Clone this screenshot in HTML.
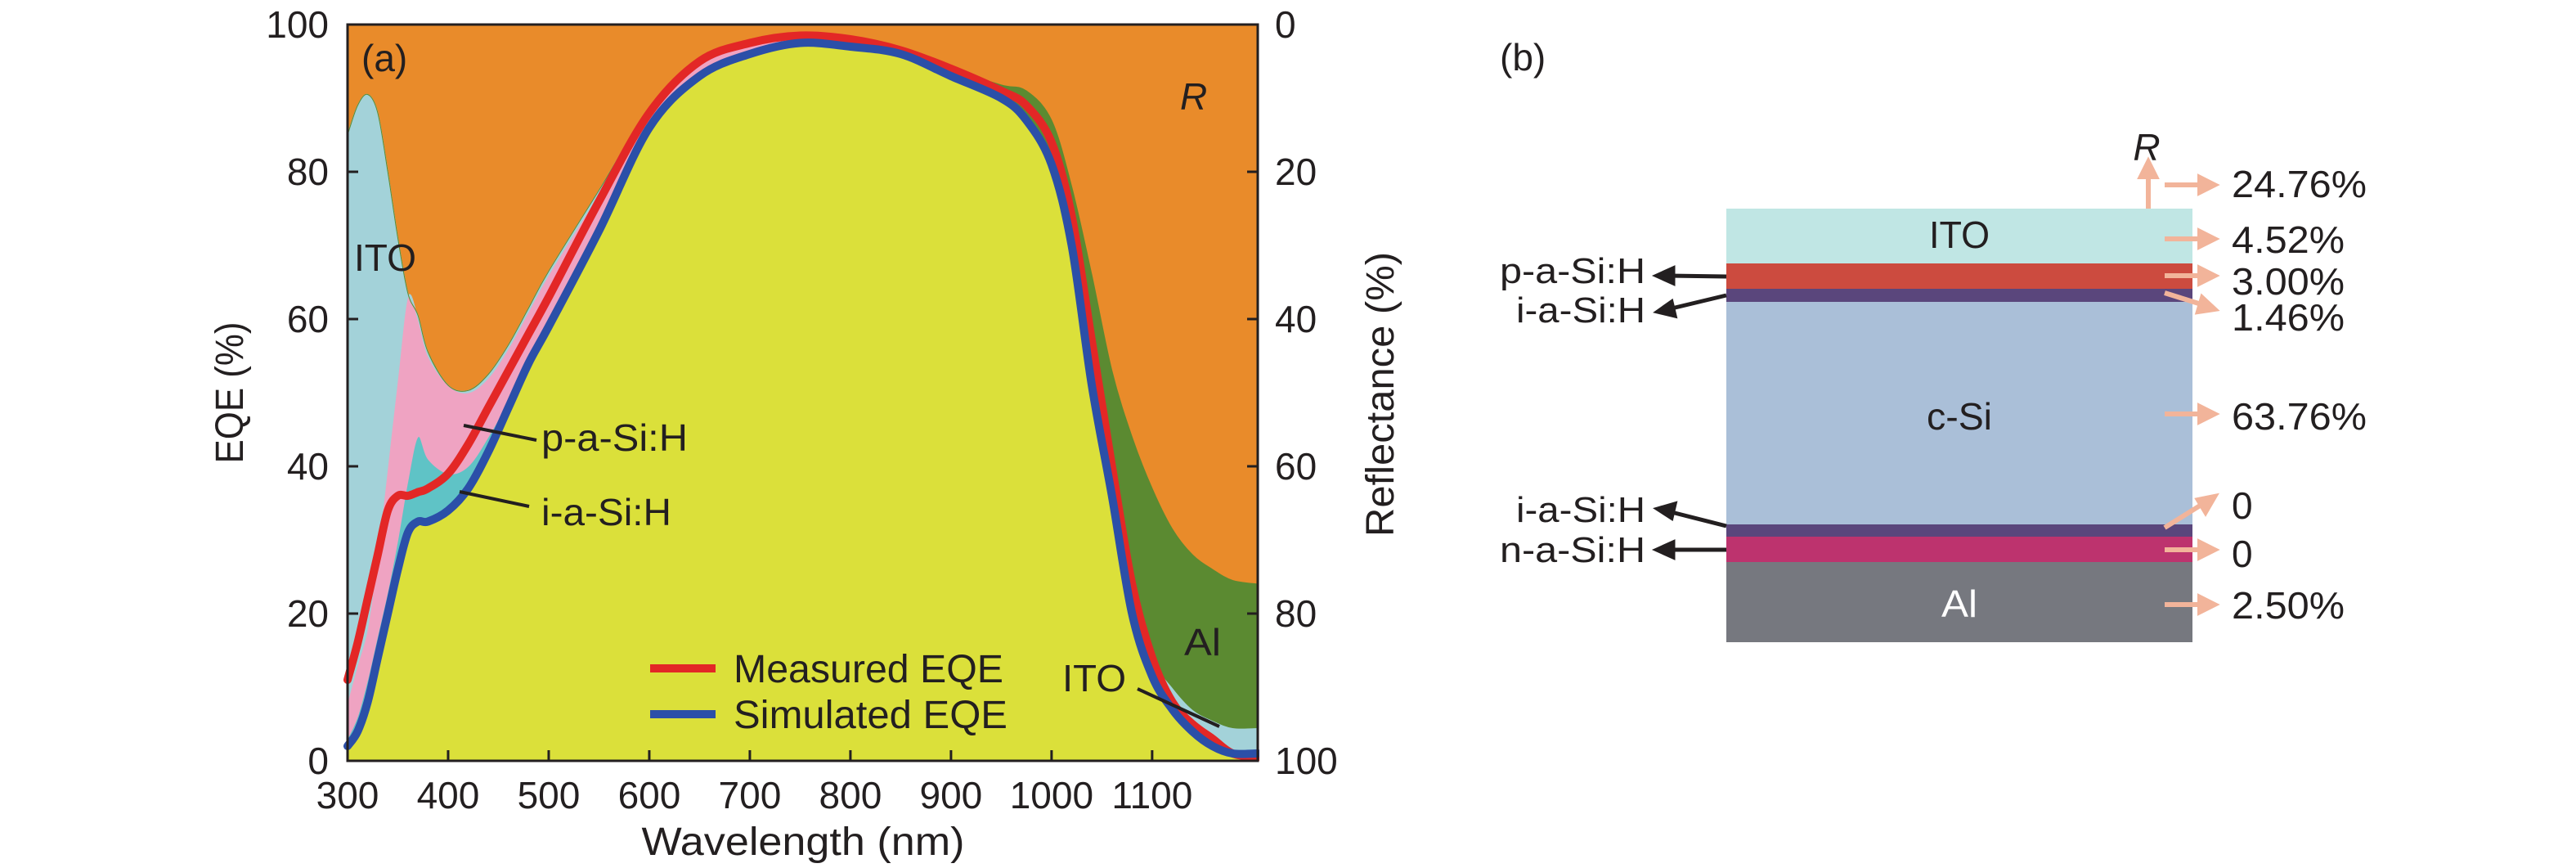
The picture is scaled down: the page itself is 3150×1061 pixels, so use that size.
<!DOCTYPE html>
<html><head><meta charset="utf-8"><style>
html,body{margin:0;padding:0;background:#fff;}
svg{display:block;}
text{font-family:"Liberation Sans",sans-serif;fill:#231f20;}
</style></head><body>
<svg id="fig" width="3150" height="1061" viewBox="0 0 3150 1061" xmlns="http://www.w3.org/2000/svg">
<g id="panelA"></g>
<g id="panelB">
  <text x="1834" y="86" font-size="46">(b)</text>
  <rect x="2111" y="255" width="570" height="67" fill="#c0e6e4"/>
  <rect x="2111" y="322" width="570" height="31" fill="#cc4b3f"/>
  <rect x="2111" y="353" width="570" height="16" fill="#5a467c"/>
  <rect x="2111" y="369" width="570" height="272" fill="#aabfd8"/>
  <rect x="2111" y="641" width="570" height="15" fill="#5a467c"/>
  <rect x="2111" y="656" width="570" height="31" fill="#bd336e"/>
  <rect x="2111" y="687" width="570" height="98" fill="#76787f"/>
  <text x="2396" y="303" font-size="46" text-anchor="middle" textLength="74" lengthAdjust="spacingAndGlyphs">ITO</text>
  <text x="2396" y="525" font-size="46" text-anchor="middle" textLength="80" lengthAdjust="spacingAndGlyphs">c-Si</text>
  <text x="2396" y="754" font-size="46" text-anchor="middle" style="fill:#fff" textLength="44" lengthAdjust="spacingAndGlyphs">Al</text>
  <g font-size="44" text-anchor="end">
    <text x="2012" y="346" textLength="178" lengthAdjust="spacingAndGlyphs">p-a-Si:H</text>
    <text x="2012" y="394" textLength="158" lengthAdjust="spacingAndGlyphs">i-a-Si:H</text>
    <text x="2012" y="638" textLength="158" lengthAdjust="spacingAndGlyphs">i-a-Si:H</text>
    <text x="2012" y="687" textLength="178" lengthAdjust="spacingAndGlyphs">n-a-Si:H</text>
  </g>
  <g stroke="#231f20" stroke-width="5" fill="#231f20">
    <line x1="2111" y1="338" x2="2040" y2="337"/><polygon points="2026,337 2046,328 2046,346"/>
    <line x1="2111" y1="361" x2="2040" y2="378"/><polygon points="2027,381 2044,369 2048,386"/>
    <line x1="2111" y1="643" x2="2040" y2="625"/><polygon points="2027,622 2048,616 2044,633"/>
    <line x1="2111" y1="672" x2="2040" y2="672"/><polygon points="2026,672 2046,663 2046,681"/>
  </g>
  <g stroke="#f2b49a" stroke-width="6" fill="#f2b49a">
    <line x1="2627" y1="255" x2="2627" y2="212"/><polygon points="2627,198 2618,216 2636,216"/>
    <line x1="2647" y1="226" x2="2694" y2="226"/><polygon points="2708,226 2690,217 2690,235"/>
    <line x1="2647" y1="292" x2="2694" y2="292"/><polygon points="2708,292 2690,283 2690,301"/>
    <line x1="2647" y1="337" x2="2694" y2="337"/><polygon points="2708,337 2690,328 2690,346"/>
    <line x1="2647" y1="358" x2="2695" y2="373"/><polygon points="2708,378 2693,364 2688,381"/>
    <line x1="2647" y1="506" x2="2694" y2="506"/><polygon points="2708,506 2690,497 2690,515"/>
    <line x1="2647" y1="645" x2="2695" y2="615"/><polygon points="2708,607 2688,611 2697,626"/>
    <line x1="2647" y1="672" x2="2694" y2="672"/><polygon points="2708,672 2690,663 2690,681"/>
    <line x1="2647" y1="739" x2="2694" y2="739"/><polygon points="2708,739 2690,730 2690,748"/>
  </g>
  <text x="2625" y="196" font-size="46" font-style="italic" text-anchor="middle">R</text>
  <g font-size="46">
    <text x="2729" y="241" textLength="165" lengthAdjust="spacingAndGlyphs">24.76%</text>
    <text x="2729" y="309" textLength="138" lengthAdjust="spacingAndGlyphs">4.52%</text>
    <text x="2729" y="360" textLength="138" lengthAdjust="spacingAndGlyphs">3.00%</text>
    <text x="2729" y="404" textLength="138" lengthAdjust="spacingAndGlyphs">1.46%</text>
    <text x="2729" y="525" textLength="165" lengthAdjust="spacingAndGlyphs">63.76%</text>
    <text x="2729" y="634">0</text>
    <text x="2729" y="693">0</text>
    <text x="2729" y="756" textLength="138" lengthAdjust="spacingAndGlyphs">2.50%</text>
  </g>
</g>
</svg>
<script>
const wavelengths=[300,310,320,330,340,350,360,370,380,400,420,440,460,480,500,550,600,650,700,750,800,850,900,950,975,1000,1020,1040,1060,1080,1100,1120,1140,1160,1180,1205];
const cSiAbs   =[2,4,8,14,20,26,31,32.5,32.5,34,37,42,48,54,59,72,86,93,96,97.5,97,96,93,90,87,81,70,51,36,20,11.5,7,4,2,1,1];
const iaSiAbs  =[1,2,3,3,3,4,7,11.5,8.5,5,3,2,1,1,1,0.5,0.3,0.2,0.2,0.2,0.2,0.2,0.2,0,0,0,0,0,0,0,0,0,0,0,0,0];
const paSiAbs  =[5,7,7,11,17,22,25,16,14,12,10,8,7,6,6,4.5,1.7,1.3,1,0.4,0.3,0.3,0.3,0.1,0,0,0,0,0,0,0,0,0,0,0,0];
const itoFrontAbs=[77,76,72.5,60,40,19,0.5,0.5,0.5,0,0.3,0.5,0.5,0.5,0.5,0.5,0.5,0.3,0.3,0.2,0.2,0.2,0.2,0,0,0,0,0,0,0,0,0,0,0,0,0];
const itoBackAbs=[0,0,0,0,0,0,0,0,0,0,0,0,0,0,0,0,0,0,0,0,0,0,0,0.2,0.3,0.5,1,2,2,3,2.5,3,3,3.5,3.5,3.5];
const alAbs    =[0,0,0,0,0,0,0,0,0,0,0,0,0,0,0,0,0,0,0,0,0,0,0.3,1.5,3.7,5.5,7,13,15,21,23,21.5,21,20.5,20,19.5];
const measuredEQE=[11,16,22,28,34,36,36,36.5,37,39,43,48,53,58,63,76,88,95,97.5,98.5,98,96.5,94,91,89,84,74,57,40,24,14,8,5,3,1,0.5];
const simulatedEQE=[2,4,8,14,20,26,31,32.5,32.5,34,37,42,48,54,59,72,86,93,96,97.5,97,96,93,90,87,81,70,51,36,20,11.5,7,4,2,1,1];
const xTicks=[300,400,500,600,700,800,900,1000,1100];
const yTicks=[0,20,40,60,80,100];
const rTicks=[0,20,40,60,80,100];

const NS="http://www.w3.org/2000/svg";
const X0=425,X1=1538,Y0=930,Y1=30,WMIN=300,WMAX=1205;
function xs(w){return X0+(w-WMIN)*(X1-X0)/(WMAX-WMIN);}
function ys(v){return Y0-v*(Y0-Y1)/100;}
const g=document.getElementById('panelA');
function mk(tag,attrs,parent){const e=document.createElementNS(NS,tag);for(const k in attrs)e.setAttribute(k,attrs[k]);(parent||g).appendChild(e);return e;}
// Catmull-Rom smoothing through points; returns path segments (without initial M)
function smooth(P){
  let d='';
  for(let i=0;i<P.length-1;i++){
    const p0=P[i-1]||P[i],p1=P[i],p2=P[i+1],p3=P[i+2]||P[i+1];
    const c1=[p1[0]+(p2[0]-p0[0])/6,p1[1]+(p2[1]-p0[1])/6];
    const c2=[p2[0]-(p3[0]-p1[0])/6,p2[1]-(p3[1]-p1[1])/6];
    d+=' C'+c1[0].toFixed(1)+' '+c1[1].toFixed(1)+' '+c2[0].toFixed(1)+' '+c2[1].toFixed(1)+' '+p2[0].toFixed(1)+' '+p2[1].toFixed(1);
  }
  return d;
}

const bg=mk('rect',{x:X0,y:Y1,width:X1-X0,height:Y0-Y1,fill:'#e98b2a'});



const layers=[[cSiAbs,'#dbe03a','c-si-area'],[iaSiAbs,'#5fc3c6','i-a-si-area'],[paSiAbs,'#efa3c2','p-a-si-area'],[itoFrontAbs,'#a3d2d9','ito-front-area'],[itoBackAbs,'#a3d2d9','ito-back-area'],[alAbs,'#5b8a31','al-area']];
let base=wavelengths.map(()=>0);
layers.forEach(L=>{
  const top=base.map((b,i)=>b+L[0][i]);
  const T=wavelengths.map((w,i)=>[xs(w),ys(top[i])]);
  const B=wavelengths.map((w,i)=>[xs(w),ys(base[i])]).reverse();
  const d='M'+T[0][0]+' '+T[0][1]+smooth(T)+' L'+B[0][0]+' '+B[0][1]+smooth(B)+' Z';
  const p=mk('path',{d:d,fill:L[1],stroke:L[1],'stroke-width':1});
  
  
  base=top;
});
function line(vals,color,name){
  const P=wavelengths.map((w,i)=>[xs(w),ys(vals[i])]);
  const d='M'+P[0][0]+' '+P[0][1]+smooth(P);
  const p=mk('path',{d:d,fill:'none',stroke:color,'stroke-width':10,'stroke-linejoin':'round','stroke-linecap':'round'});
  
  
}
line(measuredEQE,'#e32726','measured-eqe-line');
line(simulatedEQE,'#2b4fa8','simulated-eqe-line');

const clip=mk('rect',{x:X1+2,y:0,width:20,height:1061,fill:'#fff'});


const clip2=mk('rect',{x:X0,y:Y0+2,width:X1-X0,height:15,fill:'#fff'});


const frame=mk('rect',{x:X0,y:Y1,width:X1-X0,height:Y0-Y1,fill:'none',stroke:'#231f20','stroke-width':3});



xTicks.forEach(t=>{
  const tk=mk('line',{x1:xs(t),x2:xs(t),y1:Y0,y2:Y0-13,stroke:'#231f20','stroke-width':3});
  
  
  const tx=mk('text',{x:xs(t),y:988,'font-size':46,'text-anchor':'middle'});
  tx.textContent=t;
  
  
});
yTicks.forEach(t=>{
  const tk=mk('line',{x1:X0,x2:X0+13,y1:ys(t),y2:ys(t),stroke:'#231f20','stroke-width':3});
  
  
  const tx=mk('text',{x:402,y:ys(t)+16,'font-size':46,'text-anchor':'end'});
  tx.textContent=t;
  
  
});
rTicks.forEach(t=>{
  const yy=Y1+t*(Y0-Y1)/100;
  const tk=mk('line',{x1:X1,x2:X1-13,y1:yy,y2:yy,stroke:'#231f20','stroke-width':3});
  
  
  const tx=mk('text',{x:1559,y:yy+16,'font-size':46});
  tx.textContent=t;
  
  
});
function label(txt,attrs,name){const t=mk('text',attrs);t.textContent=txt;return t;}
label('Wavelength (nm)',{x:982,y:1045,'font-size':48,'text-anchor':'middle',textLength:395,lengthAdjust:'spacingAndGlyphs'},'x-axis-title');
label('EQE (%)',{x:0,y:0,'font-size':48,'text-anchor':'middle',transform:'translate(297,480) rotate(-90)',textLength:173,lengthAdjust:'spacingAndGlyphs'},'y-axis-title');
label('Reflectance (%)',{x:0,y:0,'font-size':48,'text-anchor':'middle',transform:'translate(1704,482) rotate(-90)',textLength:348,lengthAdjust:'spacingAndGlyphs'},'right-y-axis-title');
label('(a)',{x:442,y:87,'font-size':46},'panel-a-label');
label('R',{x:1443,y:134,'font-size':46,'font-style':'italic'},'reflectance-label');
label('ITO',{x:433,y:331,'font-size':46,textLength:76,lengthAdjust:'spacingAndGlyphs'},'ito-front-label');
label('p-a-Si:H',{x:662,y:551,'font-size':46,textLength:179,lengthAdjust:'spacingAndGlyphs'},'p-a-si-label');
label('i-a-Si:H',{x:662,y:642,'font-size':46,textLength:159,lengthAdjust:'spacingAndGlyphs'},'i-a-si-label');
label('Al',{x:1448,y:801,'font-size':46,textLength:45,lengthAdjust:'spacingAndGlyphs'},'al-label');
label('ITO',{x:1299,y:845,'font-size':46,textLength:78,lengthAdjust:'spacingAndGlyphs'},'ito-back-label');
[[567,520,656,538,'p-a-si-leader'],[562,601,647,619,'i-a-si-leader'],[1391,842,1491,888,'ito-back-leader']].forEach(a=>{
  const l=mk('line',{x1:a[0],y1:a[1],x2:a[2],y2:a[3],stroke:'#231f20','stroke-width':4});
  
  
});
const lg1=mk('line',{x1:795,x2:875,y1:817,y2:817,stroke:'#e32726','stroke-width':10});


const lg2=mk('line',{x1:795,x2:875,y1:873,y2:873,stroke:'#2b4fa8','stroke-width':10});


label('Measured EQE',{x:897,y:834,'font-size':48,textLength:330,lengthAdjust:'spacingAndGlyphs'},'legend-measured-label');
label('Simulated EQE',{x:897,y:890,'font-size':48,textLength:335,lengthAdjust:'spacingAndGlyphs'},'legend-simulated-label');
</script>
</body></html>
